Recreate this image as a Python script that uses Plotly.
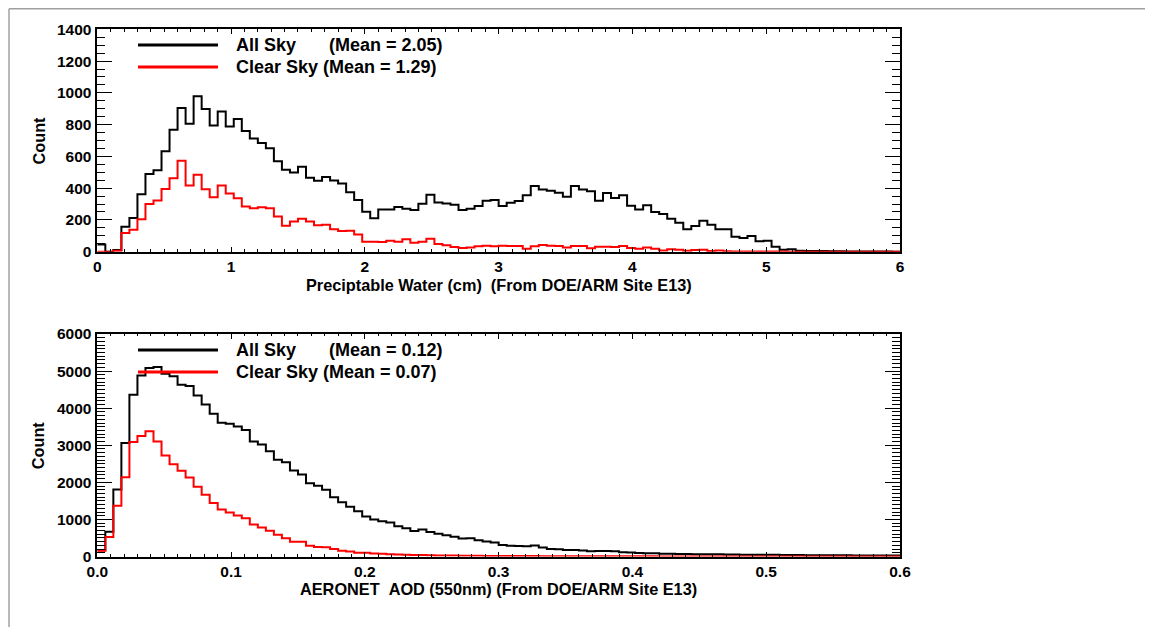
import numpy as np
import plotly.graph_objects as go

# ---------------- data ----------------
# Precipitable water histogram: 100 bins of width 0.06 cm from 0 to 6
pw_bin_width = 0.06
pw_all_sky = [45, 0, 10, 157, 212, 361, 489, 513, 632, 768,
              905, 805, 979, 899, 795, 883, 788, 836, 760, 712,
              685, 652, 569, 516, 499, 534, 465, 447, 471, 448,
              430, 375, 326, 252, 210, 266, 266, 281, 270, 262,
              302, 359, 310, 304, 296, 262, 270, 287, 321, 325,
              287, 308, 319, 355, 413, 392, 384, 371, 346, 413,
              392, 380, 321, 369, 338, 355, 290, 266, 292, 250,
              237, 208, 183, 141, 162, 195, 170, 141, 141, 94,
              86, 99, 65, 69, 31, 13, 15, 6, 5, 4,
              4, 3, 3, 2, 2, 2, 1, 1, 1, 0]
pw_clear_sky = [0, 0, 6, 117, 138, 205, 301, 322, 395, 462,
                573, 416, 485, 393, 343, 416, 366, 337, 285, 274,
                280, 274, 222, 163, 190, 207, 190, 167, 169, 142,
                130, 132, 109, 62, 63, 61, 69, 63, 78, 57,
                63, 82, 48, 40, 29, 23, 27, 34, 38, 34,
                38, 36, 36, 19, 34, 42, 38, 36, 27, 36,
                36, 21, 31, 31, 29, 36, 23, 19, 27, 19,
                8, 15, 13, 6, 10, 13, 4, 8, 3, 2,
                2, 2, 1, 1, 1, 1, 0, 0, 0, 0,
                0, 0, 0, 0, 0, 0, 0, 0, 0, 0]

# AOD histogram: 100 bins of width 0.006 from 0 to 0.6
aod_bin_width = 0.006
aod_all_sky = [170, 670, 1804, 3063, 4360, 4880, 5080, 5110, 4930, 4860,
               4630, 4600, 4340, 4100, 3850, 3605, 3580, 3505, 3410, 3098,
               3020, 2840, 2612, 2540, 2318, 2210, 1977, 1910, 1798, 1600,
               1466, 1340, 1220, 1080, 1000, 950, 920, 815, 760, 690,
               725, 660, 615, 570, 535, 485, 490, 440, 405, 380,
               310, 290, 280, 275, 295, 245, 205, 195, 178, 175,
               160, 140, 148, 145, 140, 112, 105, 95, 90, 88,
               75, 72, 70, 66, 62, 60, 58, 62, 55, 52,
               50, 48, 46, 45, 44, 40, 40, 38, 36, 35,
               34, 33, 32, 31, 30, 30, 29, 28, 27, 27]
aod_clear_sky = [155, 525, 1370, 2140, 3085, 3250, 3375, 3100, 2725, 2490,
                 2310, 2130, 1880, 1665, 1440, 1270, 1185, 1107, 1030, 865,
                 780, 695, 585, 495, 400, 395, 292, 255, 248, 200,
                 158, 135, 103, 100, 82, 72, 63, 55, 48, 42,
                 38, 33, 30, 27, 24, 22, 20, 18, 16, 15,
                 14, 13, 12, 11, 11, 10, 9, 9, 8, 8,
                 7, 7, 6, 6, 5, 5, 5, 4, 4, 4,
                 3, 3, 3, 3, 2, 2, 2, 2, 2, 2,
                 1, 1, 1, 1, 1, 1, 1, 1, 1, 1,
                 1, 1, 1, 1, 1, 0, 0, 0, 0, 0]

pw_legend = ["All Sky", "(Mean = 2.05)", "Clear Sky (Mean = 1.29)"]
aod_legend = ["All Sky", "(Mean = 0.12)", "Clear Sky (Mean = 0.07)"]
pw_xtitle = "Preciptable Water (cm)\u00a0\u00a0(From DOE/ARM Site E13)"
aod_xtitle = "AERONET\u00a0\u00a0AOD (550nm) (From DOE/ARM Site E13)"
ytitle = "Count"

# ---------------- figure ----------------
PAGE_W, PAGE_H = 1153, 635
OFF = 8  # default page body margin
W, H = PAGE_W - 2 * OFF, PAGE_H - 2 * OFF
FONT = "Liberation Sans, Arial, Helvetica, sans-serif"


def step_xy(values, width):
    edges = np.arange(len(values) + 1) * width
    return edges, list(values) + [values[-1]]


fig = go.Figure()

for vals, color in [(pw_all_sky, "black"), (pw_clear_sky, "#ff0000")]:
    xs, ys = step_xy(vals, pw_bin_width)
    fig.add_trace(go.Scatter(x=xs, y=ys, mode="lines", line=dict(color=color, width=2, shape="hv"),
                             xaxis="x", yaxis="y", showlegend=False, hoverinfo="skip"))
for vals, color in [(aod_all_sky, "black"), (aod_clear_sky, "#ff0000")]:
    xs, ys = step_xy(vals, aod_bin_width)
    fig.add_trace(go.Scatter(x=xs, y=ys, mode="lines", line=dict(color=color, width=2, shape="hv"),
                             xaxis="x2", yaxis="y2", showlegend=False, hoverinfo="skip"))

# plot area positions (page pixels)
x0p, x1p = 97.3, 900.0
top_t, top_b = 29.3, 251.7
bot_t, bot_b = 334.0, 556.5


def px(x):
    return (x - OFF) / W


def py(y):
    return 1 - (y - OFF) / H


tickfont = dict(family=FONT, size=15.5, color="black")

common_x = dict(showline=True, linecolor="black", linewidth=1.5, mirror="ticks",
                ticks="inside", ticklen=5, tickwidth=1, tickcolor="black", automargin=False,
                showgrid=False, zeroline=False, tickfont=tickfont, ticklabelstandoff=0,
                tickprefix="<b>", ticksuffix="</b>")
common_y = dict(showline=True, linecolor="black", linewidth=1.5, mirror="ticks",
                ticks="inside", ticklen=15, tickwidth=1, tickcolor="black", automargin=False,
                showgrid=False, zeroline=False, tickfont=tickfont, ticklabelstandoff=1,
                tickprefix="<b>", ticksuffix="</b>")

fig.update_layout(
    width=W, height=H, autosize=False,
    margin=dict(l=0, r=0, t=0, b=0, pad=0, autoexpand=False),
    paper_bgcolor="white", plot_bgcolor="white",
    font=dict(family=FONT, color="black"),
    showlegend=False,
    xaxis=dict(domain=[px(x0p), px(x1p)], anchor="y", range=[0, 6], dtick=1, tickformat="d",
               minor=dict(dtick=0.1, ticklen=2.5, ticks="inside", tickcolor="black", tickwidth=1),
               **common_x),
    yaxis=dict(domain=[py(top_b), py(top_t)], anchor="x", range=[0, 1400], dtick=200,
               minor=dict(dtick=50, ticklen=8, ticks="inside", tickcolor="black", tickwidth=1),
               **common_y),
    xaxis2=dict(domain=[px(x0p), px(x1p)], anchor="y2", range=[0, 0.6], dtick=0.1, tickformat=".1f",
                minor=dict(dtick=0.01, ticklen=2.5, ticks="inside", tickcolor="black", tickwidth=1),
                **common_x),
    yaxis2=dict(domain=[py(bot_b), py(bot_t)], anchor="x2", range=[0, 6000], dtick=1000,
                minor=dict(dtick=100, ticklen=8, ticks="inside", tickcolor="black", tickwidth=1),
                **common_y),
)

shapes = []
annotations = []

# gray page frame (top and left edges)
frame_top = 1 - 0.75 / H
shapes.append(dict(type="line", xref="paper", yref="paper", x0=px(9), x1=1, y0=frame_top, y1=frame_top,
                   line=dict(color="#a0a0a0", width=1.5)))
shapes.append(dict(type="line", xref="paper", yref="paper", x0=px(9), x1=px(9), y0=frame_top, y1=0,
                   line=dict(color="#a0a0a0", width=1.5)))

legfont = dict(family=FONT, size=18, color="black")
for labels, ly1, ly2 in [(pw_legend, 45, 67), (aod_legend, 350, 372)]:
    shapes.append(dict(type="line", xref="paper", yref="paper", x0=px(138), x1=px(218), y0=py(ly1), y1=py(ly1),
                       line=dict(color="black", width=3)))
    shapes.append(dict(type="line", xref="paper", yref="paper", x0=px(138), x1=px(218), y0=py(ly2), y1=py(ly2),
                       line=dict(color="#ff0000", width=3)))
    annotations.append(dict(text="<b>%s</b>" % labels[0], xref="paper", yref="paper", x=px(234), y=py(ly1),
                            xanchor="left", yanchor="middle", showarrow=False, font=legfont))
    annotations.append(dict(text="<b>%s</b>" % labels[1], xref="paper", yref="paper", x=px(327), y=py(ly1),
                            xanchor="left", yanchor="middle", showarrow=False, font=legfont))
    annotations.append(dict(text="<b>%s</b>" % labels[2], xref="paper", yref="paper", x=px(234), y=py(ly2),
                            xanchor="left", yanchor="middle", showarrow=False, font=legfont))

titlefont = dict(family=FONT, size=16.3, color="black")
annotations.append(dict(text="<b>%s</b>" % pw_xtitle, xref="paper", yref="paper", x=px((x0p + x1p) / 2), y=py(285),
                        xanchor="center", yanchor="middle", showarrow=False, font=titlefont))
annotations.append(dict(text="<b>%s</b>" % aod_xtitle, xref="paper", yref="paper", x=px((x0p + x1p) / 2), y=py(589),
                        xanchor="center", yanchor="middle", showarrow=False, font=titlefont))
annotations.append(dict(text="<b>%s</b>" % ytitle, xref="paper", yref="paper", x=px(38), y=py((top_t + top_b) / 2),
                        xanchor="center", yanchor="middle", showarrow=False, textangle=-90, font=titlefont))
annotations.append(dict(text="<b>%s</b>" % ytitle, xref="paper", yref="paper", x=px(38), y=py((bot_t + bot_b) / 2),
                        xanchor="center", yanchor="middle", showarrow=False, textangle=-90, font=titlefont))

fig.update_layout(shapes=shapes, annotations=annotations)

fig.write_html("out.html")
